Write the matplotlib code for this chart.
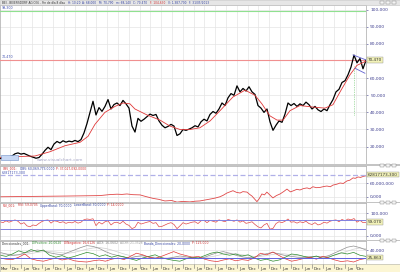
import matplotlib.pyplot as plt
import numpy as np
from matplotlib.patches import Rectangle

# ---- values: BEI daily, mid 1996 - May 2013 ----
price = [13.0, 13.5, 13.2, 14.0, 14.5, 15.8, 16.3, 15.6, 16.0, 15.2,
         14.4, 13.8, 13.2, 13.6, 15.5, 17.8, 19.6, 18.2, 21.5, 23.0,
         22.1, 23.4, 22.6, 23.2, 22.8, 23.6, 22.9, 24.1, 28.0, 33.5,
         40.0, 46.5, 38.5, 42.8, 40.6, 43.5, 47.5, 42.0, 44.6, 45.5,
         44.0, 47.0, 45.0, 42.5, 32.0, 28.5, 36.5, 34.8, 36.0, 37.5,
         39.0, 38.2, 38.8, 35.0, 32.5, 31.0, 31.8, 33.0, 32.0, 26.5,
         27.5, 30.0, 29.5, 30.2, 31.0, 32.2, 31.5, 34.5, 36.0, 35.0,
         38.8, 40.5, 39.5, 42.0, 45.5, 44.0, 48.5, 51.0, 50.0, 55.5,
         52.0, 54.0, 52.5, 55.0, 52.0, 50.5, 44.0, 42.5, 40.0, 42.0,
         34.5, 29.5, 32.5, 35.0, 34.2, 39.0, 45.5, 44.0, 45.2, 43.5,
         45.0, 44.0, 46.0, 44.5, 42.0, 43.5, 41.5, 40.5, 42.0, 41.0,
         44.5, 47.5, 52.0, 53.5, 57.5, 58.5, 62.0, 66.5, 73.5, 69.0,
         71.5, 65.5, 70.5]

ma_dates = [1996.45, 1997.38, 1998.07, 1998.77, 1999.46, 2000.16, 2000.53,
            2000.85, 2001.31, 2001.78, 2002.15, 2002.47, 2002.70, 2003.26,
            2003.86, 2004.32, 2004.79, 2005.25, 2005.71, 2006.18, 2006.64,
            2007.24, 2007.80, 2008.26, 2008.58, 2008.95, 2009.28, 2009.56,
            2009.88, 2010.34, 2011.04, 2011.50, 2011.87, 2012.20, 2012.66,
            2012.98, 2013.40]
ma = [13.5, 14.2, 14.5, 17.0, 20.5, 22.5, 26.0, 33.0, 40.0, 43.5, 45.5,
      45.0, 42.0, 38.5, 35.5, 32.0, 30.0, 30.0, 31.0, 35.0, 41.0, 49.0,
      53.0, 50.0, 45.0, 38.0, 35.5, 35.5, 41.0, 44.0, 43.0, 42.5, 44.5,
      52.0, 62.0, 67.5, 70.0]

close_level = 70.47
top_level = 99.30
chan_hi_dates, chan_hi = [2012.80, 2013.42], [73.6, 70.6]
chan_lo_dates, chan_lo = [2012.89, 2013.35], [65.8, 62.9]

# OBV in millions
obv_dates = [1996.45, 1997.5, 1998.5, 1999.5, 2000.3, 2001.08, 2001.5, 2001.87,
             2002.1, 2002.33, 2002.6, 2002.94, 2003.2, 2003.54, 2003.8, 2004.09,
             2004.4, 2004.65, 2004.9, 2005.25, 2005.5, 2005.71, 2006.0, 2006.18,
             2006.4, 2006.64, 2006.8, 2006.96, 2007.1, 2007.24, 2007.4, 2007.57,
             2007.7, 2007.89, 2008.0, 2008.12, 2008.35, 2008.45, 2008.58, 2008.7,
             2008.81, 2009.09, 2009.25, 2009.42, 2009.6, 2009.74, 2009.9, 2010.02,
             2010.2, 2010.34, 2010.5, 2010.67, 2010.8, 2010.94, 2011.1, 2011.27,
             2011.45, 2011.59, 2011.75, 2011.87, 2012.05, 2012.20, 2012.35,
             2012.52, 2012.65, 2012.80, 2012.9, 2013.03, 2013.15, 2013.26, 2013.40]
obv = [1, 2, 3, 4, 5, 6, 10, 12, 11, 13, 10, 9, 2, -6, -10, -17,
       -15, -22, -19, -21, -18, -17, -12, -9, -5, 1, 8, 17, 22, 27, 20, 17,
       23, 21, 12, 4, -20, -8, 13, 9, 21, -4, 6, 13, 24, 34, 22, 26,
       33, 30, 36, 39, 35, 44, 40, 41, 45, 47, 44, 51, 55, 60, 58,
       69, 72, 82, 80, 86, 84, 88, 91]

rsi = [62, 58, 66, 60, 65, 70, 64, 52, 58, 44,
       40, 48, 45, 55, 63, 68, 70, 56, 66, 64,
       58, 62, 55, 60, 57, 63, 56, 60, 71, 74,
       72, 75, 45, 60, 52, 62, 66, 48, 58, 60,
       54, 64, 52, 46, 32, 38, 60, 52, 56, 60,
       63, 55, 58, 40, 42, 48, 54, 58, 50, 32,
       44, 58, 52, 56, 60, 62, 54, 66, 68, 58,
       68, 64, 60, 70, 66, 62, 72, 68, 64, 70,
       60, 66, 55, 58, 62, 50, 40, 35, 48, 55,
       30, 33, 54, 62, 58, 64, 74, 60, 62, 56,
       62, 58, 64, 54, 50, 58, 48, 52, 60, 56,
       64, 68, 70, 62, 72, 66, 74, 70, 76, 60,
       68, 58, 59]
rsi_upper, rsi_lower = 70, 30

di_plus = [27, 24, 30, 38, 33, 41, 36, 40, 27, 22, 26, 20, 24, 29, 34, 31, 24, 28,
           22, 26, 23, 18, 14, 20, 24, 28, 21, 17, 14, 12, 18, 22, 20, 26, 32, 35,
           30, 27, 30, 25, 28, 20, 14, 17, 12, 15, 22, 30, 28, 24, 21, 25, 19, 22,
           28, 33, 30, 34, 27, 24]
di_minus = [20, 17, 16, 22, 30, 18, 14, 12, 16, 20, 15, 18, 13, 11, 10, 13, 15, 12,
            17, 20, 16, 24, 32, 28, 22, 19, 24, 30, 36, 30, 26, 22, 24, 17, 13, 11,
            15, 18, 13, 16, 14, 20, 32, 28, 35, 26, 18, 12, 15, 19, 22, 17, 24, 20,
            15, 11, 13, 10, 16, 19]
adx = [34, 30, 26, 28, 33, 36, 40, 38, 33, 30, 28, 34, 40, 46, 51, 49, 44, 36, 30,
       26, 22, 20, 24, 26, 23, 20, 18, 19, 22, 25, 23, 20, 18, 22, 28, 33, 36, 32,
       27, 23, 21, 22, 27, 31, 34, 30, 26, 24, 22, 21, 23, 24, 22, 26, 33, 40, 47,
       50, 46, 40]
adxr = [30, 30, 29, 28, 29, 31, 34, 36, 36, 35, 33, 32, 34, 38, 42, 45, 46, 44, 40,
        35, 30, 26, 24, 23, 23, 22, 21, 20, 20, 21, 22, 22, 21, 21, 23, 26, 30, 32,
        31, 28, 26, 24, 24, 26, 29, 31, 30, 28, 26, 24, 23, 23, 23, 24, 27, 32, 37,
        42, 45, 43]
dir_band = 20

# ---- layout (pixels) ----
W, H = 400, 272
PW = 366
X0, X1 = 1996.454, 2013.40
fig = plt.figure(figsize=(4, 2.72), dpi=100)
renderer = fig.canvas.get_renderer()

def rect(x0, y0, x1, y1):
    return [x0 / W, 1 - y1 / H, (x1 - x0) / W, (y1 - y0) / H]

def T(x, y, s, color='#3040a0', size=2.3, **kw):
    return fig.text(x / W, 1 - y / H, s, color=color, fontsize=size, va='center', **kw)

def chain(x, y, parts, size=2.2, gap=2.0):
    # header pieces written one after the other
    for s, c in parts:
        t = T(x, y, s, c, size)
        x = t.get_window_extent(renderer=renderer).x1 + gap

def fbox(x0, y0, x1, y1, fc, ec='none', lw=0.4, z=1):
    fig.add_artist(Rectangle((x0 / W, 1 - y1 / H), (x1 - x0) / W, (y1 - y0) / H,
                             transform=fig.transFigure, fc=fc, ec=ec, lw=lw, zorder=z))

grid_dates = [y + m for y in range(1996, 2014) for m in (5 / 12, 11 / 12)
              if X0 < y + m < X1]

def panel(y0, y1, lo, hi, ticks, fmt):
    ax = fig.add_axes(rect(0, y0, PW, y1))
    ax.set_xlim(X0, X1)
    ax.set_ylim(lo, hi)
    ax.set_xticks(grid_dates)
    ax.tick_params(axis='x', bottom=False, labelbottom=False)
    ax.yaxis.tick_right()
    ax.set_yticks(ticks)
    ax.set_yticklabels([fmt(v) for v in ticks])
    ax.tick_params(axis='y', labelsize=3.2, colors='#404090', length=1.5,
                   width=0.4, pad=1.5)
    ax.grid(True, color='#e4e4e4', lw=0.5)
    ax.set_axisbelow(True)
    for s in ax.spines.values():
        s.set_color('#a8a8a8')
        s.set_linewidth(0.5)
    return ax

dec = lambda v: f"{v:.3f}".replace('.', ',')

# title bar
fbox(0, 0, 400, 5, '#e6e6e6', '#c0c0c0')
chain(2, 2.5, [("BEI - BEIERSDORF AG O.N. - Fin de día 8 días", '#303030'),
               ("H: 10:20", '#3040a0'), ("A: 68,000", '#3040a0'),
               ("M: 70,790", '#3040a0'), ("m: 68,140", '#3040a0'),
               ("C: 70,470", '#3040a0'), ("F: 104,630", '#d03030'),
               ("V: 1,387,700", '#3040a0'), ("F: 31/05/2013", '#3040a0')], 2.1, 2.5)

# ---- main price panel ----
ax = panel(5, 164, 9.82, 102.8, [20, 30, 40, 50, 60, 80, 90, 100], dec)
ax.set_yticks([70], minor=True)
t_price = np.linspace(X0, X1, len(price))
ax.plot(t_price, price, color='black', lw=0.9, zorder=4)
ax.plot(ma_dates, ma, color='#e03838', lw=0.6, zorder=5)
ax.axhline(close_level, color='#f09090', lw=0.8, zorder=3)
ax.axhline(top_level, color='#90e090', lw=0.8, zorder=3)
ax.plot([X1 - 0.01, X1 - 0.01], [close_level, 102.8], color='#60c060', lw=0.6,
        ls=(0, (3, 2)), zorder=3)
ax.plot([2012.84, 2012.84], [38.5, 67.1], color='#60c060', lw=0.5,
        ls=(0, (1, 1.5)), zorder=3)
ax.plot(chan_hi_dates, chan_hi, color='#6060d0', lw=0.6, zorder=6)
ax.plot(chan_lo_dates, chan_lo, color='#6060d0', lw=0.6, zorder=6)
ax.text(1998.15, 12.3, "www.visualchart.com", color='#a8a8c8', fontsize=3.2,
        va='center', zorder=2)
T(2, 8, "99,300", '#4050b0', 2.3)
T(2, 57, "70,470", '#4050b0', 2.3)
fbox(1, 155, 18, 160, '#c8d8f4', '#7090c8', z=5)

# ---- OBV panel ----
ax2 = panel(166, 202, -21.5, 133, [0, 60],
            lambda v: "0,000" if v == 0 else "60,000,000")
ax2.plot(obv_dates, obv, color='#e04848', lw=0.6)
ax2.axhline(94, color='#b0b0e8', lw=0.9, ls=(0, (4, 2)))
chain(3, 168.5, [("OBV_001:", '#d03030'), ("OBV: 60,069,773,0000", '#3040a0'),
                 ("P: 37,027,092,0000", '#d03030')])
T(2, 173, "62817173,300", '#4050b0', 2.3)

# ---- RSI panel ----
ax3 = panel(203, 240, -17.4, 143.5, [0, 100], dec)
ax3.plot(np.linspace(X0, X1, len(rsi)), rsi, color='#e04848', lw=0.5)
ax3.axhline(rsi_upper, color='#8080e0', lw=0.7)
ax3.axhline(rsi_lower, color='#8080e0', lw=0.7)
chain(3, 205.5, [("RSI_001:", '#d03030'), ("RSI: 59,0705", '#d03030'),
                 ("UpperBand: 70,0000", '#3040a0'), ("LowerBand: 30,0000", '#3040a0'),
                 ("P: 14,0000", '#d03030')])

# ---- directional panel ----
ax4 = panel(241, 264, 5, 62.5, [40], dec)
t_dir = np.linspace(X0, X1, len(adx))
ax4.plot(t_dir, adxr, color='#cfcfcf', lw=0.5)
ax4.plot(t_dir, adx, color='#909090', lw=0.5)
ax4.plot(t_dir, di_plus, color='#2e8b2e', lw=0.5)
ax4.plot(t_dir, di_minus, color='#e03838', lw=0.5)
ax4.axhline(dir_band, color='#6060e0', lw=0.7)
chain(2, 243.3, [("Direccionales_001:", '#303030'), ("DIPositivo: 20,0620", '#2e8b2e'),
                 ("DINegativo: 16,6126", '#d03030'), ("ADX: 16,0602", '#808080'),
                 ("ADXR: 21,3528", '#a0a0a0'), ("Banda_Direccionales: 20,0000", '#3040a0'),
                 ("P: 125,000", '#d03030')])

# separators between panels
for y0, y1 in [(164, 166), (202, 203.2), (240, 241.2)]:
    fbox(0, y0, 400, y1, '#c4c4c4', z=2)
for y in [2.5, 165, 202.6, 240.6]:
    for x in (380, 386, 392):
        fbox(x, y - 1.5, x + 4, y + 1.5, '#f4f4f4', '#808080', 0.3, z=6)

# value boxes on the right scale
for y, s in [(60, "70,470"), (174.5, "62817173,300"), (222, "59,070"), (257.8, "25,863")]:
    fig.text(368 / W, 1 - y / H, s, fontsize=3.0, color='#303030', va='center',
             zorder=7, bbox=dict(boxstyle='square,pad=0.15', fc='#f2f2b8',
                                 ec='#909090', lw=0.3))

# ---- time axis strip ----
axx = fig.add_axes(rect(0, 264, 400, 272))
axx.set_xlim(X0, X0 + 400 * (X1 - X0) / PW)
axx.set_ylim(0, 1)
axx.set_facecolor('#fcf6d4')
axx.set_xticks([])
axx.set_yticks([])
for s in axx.spines.values():
    s.set_color('#b0b0b0')
    s.set_linewidth(0.4)
half = (X1 - X0) / PW * 5.4
axx.text(X0 + half * 0.9, 0.4, "Mar", fontsize=2.9, ha='center', va='center',
         color='#303030')
for g in grid_dates:
    axx.plot([g, g], [1, 0.45], color='#707070', lw=0.4)
    name = "Jun" if abs(g % 1 - 5 / 12) < 0.01 else "Dec"
    axx.text(g + half, 0.4, name, fontsize=2.9, ha='center', va='center',
             color='#303030')

fig.savefig('out.png', dpi=100)
